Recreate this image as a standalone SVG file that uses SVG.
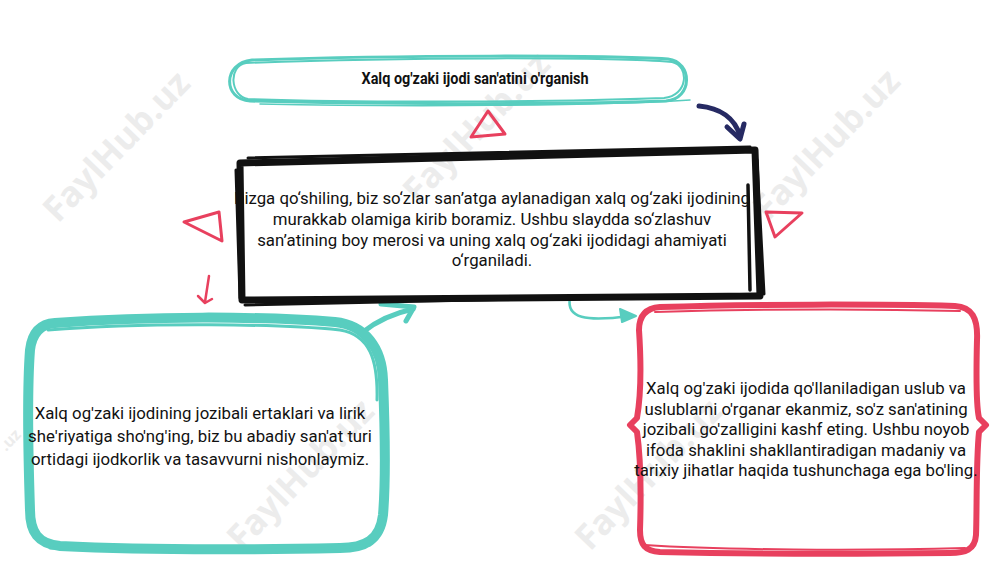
<svg xmlns="http://www.w3.org/2000/svg" width="1000" height="563" viewBox="0 0 1000 563">
<style>
.wm{font-family:"Open Sans","Liberation Sans",sans-serif;font-weight:700;font-size:35px;fill:#ececec}
.body{font-family:Roboto,"Liberation Sans",sans-serif;font-size:16.8px;fill:#111;text-anchor:middle}
.title{font-family:Roboto,"Liberation Sans",sans-serif;font-weight:700;font-size:16px;fill:#111;text-anchor:middle}
.teal{fill:none;stroke:#58cdbf;stroke-linecap:round;stroke-linejoin:round}
.red{fill:none;stroke:#e8405e;stroke-linecap:round;stroke-linejoin:round}
.blk{fill:none;stroke:#111;stroke-linecap:round;stroke-linejoin:round}
</style>
<rect width="1000" height="563" fill="#fff"/>
<g id="watermarks">
<text class="wm" transform="translate(58,224) rotate(-46)">FaylHub.uz</text>
<text class="wm" transform="translate(418,205) rotate(-46)">FaylHub.uz</text>
<text class="wm" transform="translate(768,222) rotate(-46)">FaylHub.uz</text>
<text class="wm" style="font-size:16px" transform="translate(6,452) rotate(-46)">.uz</text>
<text class="wm" transform="translate(242,552) rotate(-46)">FaylHub.uz</text>
<text class="wm" transform="translate(590,552) rotate(-46)">FaylHub.uz</text>
</g>
<g id="connectors">
<path d="M699,106 C720,108 735,118 740,136" fill="none" stroke="#262a63" stroke-width="5" stroke-linecap="round"/>
<path d="M727,127 L740,139 L744,124" fill="none" stroke="#262a63" stroke-width="5" stroke-linecap="round" stroke-linejoin="round"/>
<path d="M363,332 C378,320 395,313 413,309" class="teal" stroke-width="5"/>
<path d="M381,304 L414,307 L406,321" class="teal" stroke-width="5"/>
<path d="M570,298 C566,318 585,322 630,316" class="teal" stroke-width="2.5"/>
<path d="M620,309 L636,316 L622,322 Z" fill="#58cdbf" stroke="#58cdbf" stroke-width="2" stroke-linejoin="round"/>
<path d="M209,276 L205,302 M198,296 L205,303 L212,299" class="red" stroke-width="2.5"/>
</g>
<g id="decor">
<path d="M488,111 L505,134 L471,137 Z" class="red" stroke-width="3"/>
<path d="M184,222 L219,212 L222,241 Z" class="red" stroke-width="3"/>
<path d="M766,212 L802,213 L775,237 Z" class="red" stroke-width="3"/>
</g>
<g id="node-title">
<path d="M252,60 C400,55 600,55 668,59 C693,62 693,99 666,101 C560,105 360,104 250,101 C223,100 222,63 252,60 Z" class="teal" stroke-width="3"/>
<path d="M246,63 C400,57 610,57 672,62 C690,66 688,96 664,98 C560,102 360,103 248,99 C230,96 228,66 246,63" class="teal" stroke-width="2"/>
<path d="M260,104 C400,107 600,106 690,100" class="teal" stroke-width="1.5"/>
<text class="title" x="475" y="84" textLength="227" lengthAdjust="spacingAndGlyphs">Xalq og'zaki ijodi san'atini o'rganish</text>
</g>
<g id="node-center">
<text class="body" x="492" y="204">Bizga qo‘shiling, biz so‘zlar san’atga aylanadigan xalq og‘zaki ijodining</text>
<text class="body" x="492" y="225">murakkab olamiga kirib boramiz. Ushbu slaydda so‘zlashuv</text>
<text class="body" x="492" y="246">san’atining boy merosi va uning xalq og‘zaki ijodidagi ahamiyati</text>
<text class="body" x="492" y="266">o‘rganiladi.</text>
<path d="M240,163 L755,150 L760,296 L242,300 Z" class="blk" stroke-width="7"/>
<path d="M236,170 L240,298 M248,158 L750,147 M757,160 L764,294 M245,305 L762,294" class="blk" stroke-width="3"/>
<path d="M748,185 L750,290" class="blk" stroke-width="3.5"/>
</g>
<g id="node-left">
<path d="M55,323 C150,316 260,316 335,322 C365,325 382,348 383,380 C385,430 386,480 383,515 C380,540 365,548 340,548 C240,550 140,550 60,546 C38,544 30,532 30,510 C28,450 27,390 30,350 C32,333 40,324 55,323 Z" class="teal" stroke-width="10"/>
<path d="M48,330 C150,322 280,324 340,330 C370,335 378,360 377,400 M370,545 C300,553 150,552 50,548" class="teal" stroke-width="3"/>
<text class="body" x="200" y="419">Xalq og'zaki ijodining jozibali ertaklari va lirik</text>
<text class="body" x="200" y="442">she'riyatiga sho'ng'ing, biz bu abadiy san'at turi</text>
<text class="body" x="200" y="465">ortidagi ijodkorlik va tasavvurni nishonlaymiz.</text>
</g>
<g id="node-right">
<path d="M660,307 C750,304 880,304 955,306 C972,307 978,318 977,340 C976,380 976,405 979,418 L986,425 L979,432 C976,460 977,510 976,535 C975,550 965,553 950,553 C860,554 750,554 660,552 C645,551 640,545 640,530 C641,500 641,460 637,432 L630,425 L637,418 C641,395 641,360 639,330 C639,315 647,308 660,307 Z" class="red" stroke-width="6"/>
<path d="M655,312 C760,309 880,309 960,311 M645,545 C720,550 860,551 965,548" class="red" stroke-width="2"/>
<text class="body" x="806" y="394">Xalq og'zaki ijodida qo'llaniladigan uslub va</text>
<text class="body" x="806" y="415">uslublarni o'rganar ekanmiz, so'z san'atining</text>
<text class="body" x="806" y="435">jozibali go'zalligini kashf eting. Ushbu noyob</text>
<text class="body" x="806" y="456">ifoda shaklini shakllantiradigan madaniy va</text>
<text class="body" x="806" y="476">tarixiy jihatlar haqida tushunchaga ega bo'ling.</text>
</g>
</svg>
